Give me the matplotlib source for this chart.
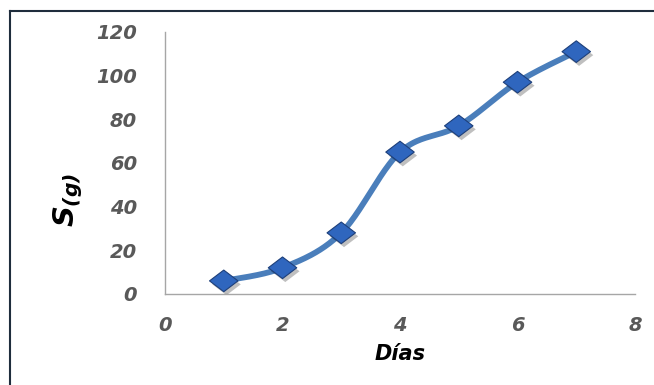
import numpy as np
import matplotlib
matplotlib.use("Agg")
import matplotlib.pyplot as plt
from matplotlib.lines import Line2D
from matplotlib.path import Path
from matplotlib import patheffects as pe

dias = [1, 2, 3, 4, 5, 6, 7]
s_g = [6, 12, 28, 65, 77, 97, 111]
x_ticks = [0, 2, 4, 6, 8]
y_ticks = [0, 20, 40, 60, 80, 100, 120]

plt.rcParams['mathtext.fontset'] = 'custom'
plt.rcParams['mathtext.rm'] = 'DejaVu Sans:bold:oblique'
plt.rcParams['mathtext.it'] = 'DejaVu Sans:bold:oblique'

TICK_FONT = dict(family='DejaVu Sans', weight='bold', style='oblique')


def smooth_curve(xs, ys, n=40):
    """Catmull-Rom style Bezier smoothing through the points."""
    p = np.column_stack([xs, ys]).astype(float)
    ext = np.vstack([p[0], p, p[-1]])
    out = []
    for i in range(len(p) - 1):
        p0, p1, p2, p3 = ext[i], ext[i + 1], ext[i + 2], ext[i + 3]
        c1 = p1 + (p2 - p0) / 6.0
        c2 = p2 - (p3 - p1) / 6.0
        t = np.linspace(0, 1, n)[:, None]
        seg = ((1 - t) ** 3) * p1 + 3 * ((1 - t) ** 2) * t * c1 + 3 * (1 - t) * t ** 2 * c2 + t ** 3 * p2
        out.append(seg if i == 0 else seg[1:])
    c = np.vstack(out)
    return c[:, 0], c[:, 1]


# slightly flattened diamond marker
diamond = Path([(-1, 0), (0, 0.76), (1, 0), (0, -0.76), (-1, 0)],
               [Path.MOVETO, Path.LINETO, Path.LINETO, Path.LINETO, Path.CLOSEPOLY])

fig = plt.figure(figsize=(6.54, 3.85), dpi=100)
ax = fig.add_axes([0.2523, 0.2364, 0.7187, 0.6805])

cx, cy = smooth_curve(dias, s_g)
ax.plot(cx, cy, color='#4A7EBB', lw=4.2, solid_capstyle='round', zorder=2)
ax.plot(dias, s_g, linestyle='none', marker=diamond, markersize=20.5,
        markerfacecolor='#2F66BE', markeredgecolor='#1D3F7A', markeredgewidth=0.8, zorder=3,
        path_effects=[pe.SimplePatchShadow(offset=(2, -2.5), shadow_rgbFace='#000000', alpha=0.25),
                      pe.Normal()])

ax.set_xlim(0, 8)
ax.set_ylim(0, 120)
ax.set_xticks(x_ticks)
ax.set_yticks(y_ticks)
ax.tick_params(length=0)
ax.tick_params(axis='y', pad=20)
ax.tick_params(axis='x', pad=16)
for lab in ax.get_xticklabels() + ax.get_yticklabels():
    lab.set_fontfamily(TICK_FONT['family'])
    lab.set_fontweight(TICK_FONT['weight'])
    lab.set_fontstyle(TICK_FONT['style'])
    lab.set_fontsize(14)
    lab.set_color('#595959')

for side in ('top', 'right'):
    ax.spines[side].set_visible(False)
for side in ('left', 'bottom'):
    ax.spines[side].set_color('#A6A6A6')
    ax.spines[side].set_linewidth(1.0)

ax.set_xlabel('Días', fontfamily='DejaVu Sans', fontweight='bold', fontstyle='oblique',
              fontsize=15, color='black', labelpad=6)
ax.set_ylabel(r'$S_{(g)}$', fontsize=21, color='black')
ax.yaxis.set_label_coords(-0.17, 0.36)

# frame lines along the top and left edge of the figure
fig.add_artist(Line2D([10 / 654, 10 / 654], [0, 1 - 11 / 385], transform=fig.transFigure,
                      color='#1F2D3D', lw=1.5))
fig.add_artist(Line2D([10 / 654, 1], [1 - 11 / 385, 1 - 11 / 385], transform=fig.transFigure,
                      color='#1F2D3D', lw=1.5))

fig.savefig('out.png', dpi=100)
